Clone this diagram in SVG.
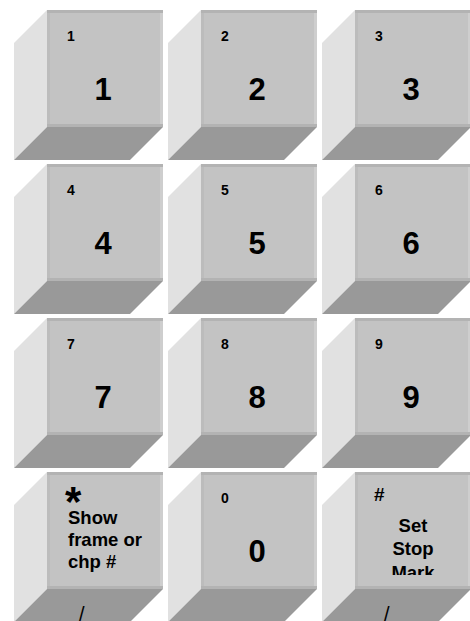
<svg xmlns="http://www.w3.org/2000/svg" width="470" height="621" viewBox="0 0 470 621">
<style>
.front{fill:#c3c3c3}
.tops{fill:#b3b3b3}
.rs{fill:#cecece}
.ls{fill:#bcbcbc}
.side{fill:#e1e1e1}
.bot{fill:#999999}
.t{font-family:"Liberation Sans",Arial,sans-serif;font-weight:bold;fill:#000}
.s{font-size:14px}
.b{font-size:31px;text-anchor:middle}
.m{font-size:18.5px}
.sl{font-family:"Liberation Sans",Arial,sans-serif;font-size:20px;fill:#000}
</style>
<defs>
<g id="key">
<polygon class="side" points="0,33 33,0 33,117 0,150"/>
<polygon class="bot" points="33,117 149,117 116,150 0,150"/>
<rect class="front" x="33" y="0" width="116" height="117"/>
<rect class="ls" x="33" y="0" width="3" height="117"/>
<rect class="rs" x="146" y="0" width="3" height="117"/>
<rect class="tops" x="33" y="0" width="116" height="3"/>
<rect class="tops" x="33" y="114" width="116" height="3"/>
</g>
<clipPath id="clipMark"><rect x="355" y="472" width="116" height="103"/></clipPath>
</defs>
<g id="key1"><use href="#key" x="14" y="10"/><text class="t s" x="67" y="41">1</text><text class="t b" x="103" y="100">1</text></g>
<g id="key2"><use href="#key" x="168" y="10"/><text class="t s" x="221" y="41">2</text><text class="t b" x="257" y="100">2</text></g>
<g id="key3"><use href="#key" x="322" y="10"/><text class="t s" x="375" y="41">3</text><text class="t b" x="411" y="100">3</text></g>
<g id="key4"><use href="#key" x="14" y="164"/><text class="t s" x="67" y="195">4</text><text class="t b" x="103" y="254">4</text></g>
<g id="key5"><use href="#key" x="168" y="164"/><text class="t s" x="221" y="195">5</text><text class="t b" x="257" y="254">5</text></g>
<g id="key6"><use href="#key" x="322" y="164"/><text class="t s" x="375" y="195">6</text><text class="t b" x="411" y="254">6</text></g>
<g id="key7"><use href="#key" x="14" y="318"/><text class="t s" x="67" y="349">7</text><text class="t b" x="103" y="408">7</text></g>
<g id="key8"><use href="#key" x="168" y="318"/><text class="t s" x="221" y="349">8</text><text class="t b" x="257" y="408">8</text></g>
<g id="key9"><use href="#key" x="322" y="318"/><text class="t s" x="375" y="349">9</text><text class="t b" x="411" y="408">9</text></g>
<g id="keyStar"><use href="#key" x="14" y="472"/>
<text class="t" x="65" y="516" font-size="42">*</text>
<text class="t m" x="68" y="524">Show</text>
<text class="t m" x="68" y="546">frame or</text>
<text class="t m" x="68" y="568">chp #</text>
<text class="sl" x="79" y="621">/</text></g>
<g id="key0"><use href="#key" x="168" y="472"/><text class="t s" x="221" y="503">0</text><text class="t b" x="257" y="562">0</text></g>
<g id="keyHash"><use href="#key" x="322" y="472"/>
<text class="t" x="374" y="501" font-size="19">#</text>
<g clip-path="url(#clipMark)">
<text class="t m" x="413" y="532" text-anchor="middle">Set</text>
<text class="t m" x="413" y="555" text-anchor="middle">Stop</text>
<text class="t m" x="413" y="579" text-anchor="middle">Mark</text>
</g>
<text class="sl" x="384" y="621">/</text></g>
</svg>
